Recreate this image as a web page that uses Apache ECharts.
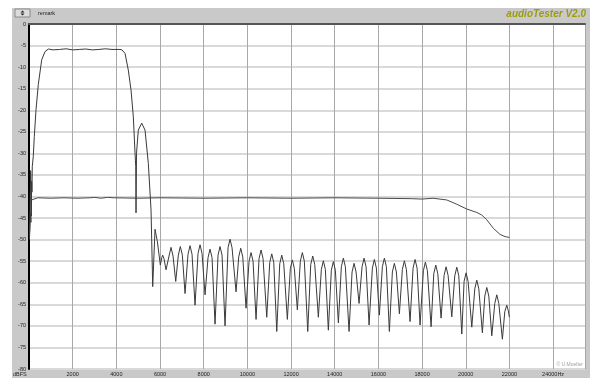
<!DOCTYPE html>
<html>
<head>
<meta charset="utf-8">
<script src="https://cdn.jsdelivr.net/npm/echarts@6/dist/echarts.min.js"></script>
<style>
html,body{margin:0;padding:0;background:#ffffff;width:590px;height:378px;overflow:hidden;}
#c{position:absolute;left:12px;top:8px;width:578px;height:370px;}
</style>
</head>
<body>
<div id="c"></div>
<script>
// ---- data (frequency in Hz, level in dBFS) ----
var filterResponse = [
  [20,-50],[45,-47],[60,-40],[75,-34],[90,-37],[105,-44.5],[120,-36.5],[135,-39],[150,-33],
  [195,-30.8],[243,-26.1],[321,-19.9],[426,-14.0],[582,-8.3],[733,-6.4],[884,-5.8],
  [1100,-6.0],[1400,-5.9],[1700,-5.75],[2000,-6.0],[2300,-5.9],[2600,-5.8],[2900,-6.0],
  [3200,-5.9],[3500,-5.75],[3800,-5.9],[4165,-5.9],[4257,-6.0],[4397,-6.8],[4548,-10.7],
  [4672,-15.3],[4777,-21.5],[4855,-29.9],[4887,-33],[4901,-43.8],[4923,-30],[5006,-24.6],
  [5162,-23.0],[5313,-24.6],[5464,-32.3],[5588,-43.1],
  [5665,-60.9],[5771,-47.6],[5880,-50.5],
  [6014,-55.9],[6080,-54.2],[6123,-53.6],[6180,-54.4],
  [6275,-57.0],[6412,-53.8],[6504,-51.8],[6596,-53.8],
  [6719,-59.7],[6838,-53.6],[6930,-51.6],[7022,-53.6],
  [7145,-62.5],[7282,-53.4],[7374,-51.4],[7466,-53.4],
  [7603,-65.2],[7740,-53.2],[7832,-51.2],[7924,-53.2],
  [8061,-62.8],[8198,-54.2],[8290,-52.2],[8382,-54.2],
  [8519,-69.6],[8656,-53.6],[8748,-51.6],[8840,-53.6],
  [8977,-70.0],[9114,-51.9],[9206,-49.9],[9298,-51.9],
  [9481,-62.1],[9604,-54.0],[9696,-52.0],[9788,-54.0],
  [9939,-65.9],[10076,-55.0],[10168,-53.0],[10260,-55.0],
  [10397,-68.5],[10534,-54.4],[10626,-52.4],[10718,-54.4],
  [10887,-68.0],[11024,-55.3],[11116,-53.3],[11208,-55.3],
  [11345,-71.3],[11482,-55.6],[11574,-53.6],[11666,-55.6],
  [11830,-68.5],[11967,-56.7],[12059,-54.7],[12151,-56.7],
  [12288,-66.3],[12425,-55.0],[12517,-53.0],[12609,-55.0],
  [12764,-71.3],[12901,-55.8],[12993,-53.8],[13085,-55.8],
  [13250,-68.0],[13387,-56.9],[13479,-54.9],[13571,-56.9],
  [13708,-71.0],[13845,-57.1],[13937,-55.1],[14029,-57.1],
  [14166,-69.3],[14303,-56.3],[14395,-54.3],[14487,-56.3],
  [14656,-71.3],[14793,-57.5],[14885,-55.5],[14977,-57.5],
  [15114,-64.8],[15251,-56.3],[15343,-54.3],[15435,-56.3],
  [15572,-69.8],[15723,-56.6],[15815,-54.6],[15907,-56.6],
  [16044,-67.5],[16181,-56.3],[16273,-54.3],[16365,-56.3],
  [16502,-71.3],[16639,-57.5],[16731,-55.5],[16823,-57.5],
  [16960,-67.2],[17097,-56.9],[17189,-54.9],[17281,-56.9],
  [17450,-69.0],[17587,-56.6],[17679,-54.6],[17771,-56.6],
  [17908,-69.8],[18059,-57.2],[18151,-55.2],[18243,-57.2],
  [18412,-70.2],[18535,-57.9],[18627,-55.9],[18719,-57.9],
  [18870,-68.2],[19007,-58.3],[19099,-56.3],[19191,-58.3],
  [19360,-67.9],[19497,-58.4],[19589,-56.4],[19681,-58.4],
  [19818,-71.9],[19923,-59.7],[20015,-57.7],[20107,-59.7],
  [20276,-70.3],[20413,-61.4],[20505,-59.4],[20597,-61.4],
  [20761,-71.6],[20871,-63.1],[20963,-61.1],[21055,-63.1],
  [21192,-72.3],[21329,-64.8],[21421,-62.8],[21513,-64.8],
  [21677,-73.1],[21787,-66.7],[21879,-65.2],[21950,-66.5],
  [21998,-68.0]
];
var referenceResponse = [
  [20,-49],[60,-44],[90,-46],[115,-40.8],[150,-40.5],[400,-40.3],[1000,-40.4],[1600,-40.3],
  [2200,-40.4],[2800,-40.3],[3000,-40.2],[3300,-40.4],[3600,-40.2],[3900,-40.3],[5000,-40.4],
  [6000,-40.3],[8000,-40.4],[10000,-40.3],[12000,-40.4],[14000,-40.3],[16000,-40.4],
  [17500,-40.5],[18000,-40.6],[18500,-40.4],[19130,-40.8],[19589,-41.8],[20046,-42.9],
  [20505,-43.7],[20733,-44.3],[20963,-45.4],[21266,-47.4],[21572,-48.8],[21800,-49.3],[21998,-49.5]
];
var freqMin = 0, freqMax = 25460, freqStep = 2000, lastFreqLabel = 24000;
var dbMin = -80, dbMax = 0, dbStep = 5;
var titleText = 'audioTester V2.0';
var remarkText = 'remark';
var unitText = 'dBFS';
var creditText = '\u00A9 U.Mueller';

var FONT = '"Liberation Sans", Arial, sans-serif';
var chart = echarts.init(document.getElementById('c'), null, {renderer:'canvas'});
chart.setOption({
  animation: false,
  backgroundColor: '#c9c9c9',
  grid: {left:17, top:16, right:5, bottom:9, show:true, backgroundColor:'#ffffff', borderWidth:0},
  xAxis: [{
    type:'value', min:freqMin, max:freqMax, interval:freqStep,
    axisLine:{show:false}, axisTick:{show:false},
    axisLabel:{color:'#222', fontSize:5.5, fontFamily:FONT, margin:2, showMaxLabel:true,
      formatter:function(v){ if(v===0||v>lastFreqLabel) return ''; return v===lastFreqLabel ? v+'Hz' : String(v);} },
    splitLine:{show:true, lineStyle:{color:'#a8a8a8', width:1}}
  },{
    type:'value', position:'top', min:freqMin, max:freqMax,
    axisLine:{show:true, lineStyle:{color:'#555555', width:2}},
    axisTick:{show:false}, axisLabel:{show:false}, splitLine:{show:false}
  }],
  yAxis: {
    type:'value', min:dbMin, max:dbMax, interval:dbStep,
    axisLine:{show:true, onZero:false, lineStyle:{color:'#000000', width:2}},
    axisTick:{show:false},
    axisLabel:{color:'#222', fontSize:5.5, fontFamily:FONT, margin:3},
    splitLine:{show:true, lineStyle:{color:'#d9d9d9', width:2}}
  },
  series: [{
    type:'line', data:referenceResponse, symbol:'none', xAxisIndex:0,
    lineStyle:{color:'#4a4a4a', width:1}, z:3
  },{
    type:'line', data:filterResponse, symbol:'none', xAxisIndex:0,
    lineStyle:{color:'#3a3a3a', width:1}, z:4
  }],
  graphic: [
    {type:'rect', shape:{x:3, y:1, width:15, height:8}, style:{fill:'#dcdcdc', stroke:'#8a8a8a', lineWidth:1}},
    {type:'polygon', shape:{points:[[8.5,4.5],[12.5,4.5],[10.5,2.5]]}, style:{fill:'#222'}},
    {type:'polygon', shape:{points:[[8.5,5.5],[12.5,5.5],[10.5,7.5]]}, style:{fill:'#222'}},
    {type:'text', left:26, top:2.5, style:{text:remarkText, fill:'#222', font:'5.5px '+FONT}},
    {type:'text', right:4, top:1, style:{text:titleText, fill:'#9c9c12', font:'italic bold 10px '+FONT}},
    {type:'text', left:1, top:363, style:{text:unitText, fill:'#222', font:'5.5px '+FONT}},
    {type:'text', right:7, top:354, style:{text:creditText, fill:'#a0a0a0', font:'5px '+FONT}}
  ]
});
</script>
</body>
</html>
